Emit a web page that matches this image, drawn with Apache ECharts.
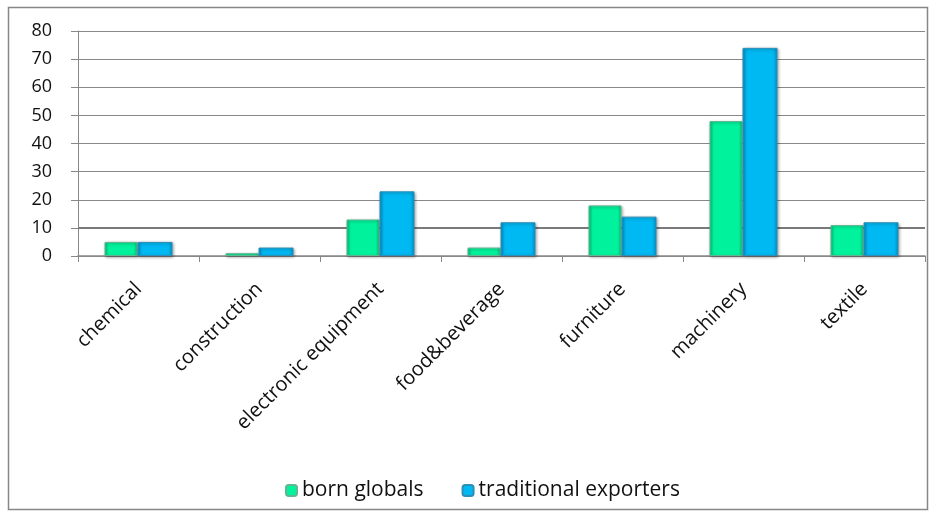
<!DOCTYPE html>
<html>
<head>
<meta charset="utf-8">
<script src="https://cdn.jsdelivr.net/npm/echarts@6/dist/echarts.min.js"></script>
<style>
  html, body { margin: 0; padding: 0; background: #fff; }
  #chart { width: 935px; height: 516px; }
</style>
</head>
<body>
<div id="chart"></div>
<script>
const categories = ["chemical", "construction", "electronic equipment", "food&beverage", "furniture", "machinery", "textile"];
const bornGlobals = [5, 1, 13, 3, 18, 48, 11];
const traditionalExporters = [5, 3, 23, 12, 14, 74, 12];
const yTicks = [0, 80, 10];

const font = "Open Sans, sans-serif";

function bevel(mid, edge) {
  return new echarts.graphic.LinearGradient(0, 0, 1, 0, [
    { offset: 0, color: edge },
    { offset: 0.12, color: mid },
    { offset: 0.88, color: mid },
    { offset: 1, color: edge }
  ]);
}

const chart = echarts.init(document.getElementById("chart"));
chart.setOption({
  animation: false,
  graphic: [{
    type: "rect",
    shape: { x: 8.5, y: 7.5, width: 919, height: 502 },
    style: { fill: "none", stroke: "#878787", lineWidth: 1.5 },
    silent: true
  }],
  grid: { left: 78, right: 10, top: 31, bottom: 260 },
  legend: {
    top: 475,
    left: 280,
    itemWidth: 11,
    itemHeight: 11,
    itemGap: 38,
    textStyle: { fontFamily: font, fontSize: 21, color: "#111" },
    data: ["born globals", "traditional exporters"]
  },
  xAxis: {
    type: "category",
    data: categories,
    axisLine: { lineStyle: { color: "#888", width: 1.5 } },
    axisTick: { show: true, length: 6, lineStyle: { color: "#888" } },
    axisLabel: {
      interval: 0,
      rotate: 45,
      fontFamily: font,
      fontSize: 20,
      color: "#111",
      margin: 30
    }
  },
  yAxis: {
    type: "value",
    min: yTicks[0],
    max: yTicks[1],
    interval: yTicks[2],
    axisLine: { show: true, lineStyle: { color: "#888" } },
    axisTick: { show: true, length: 7, lineStyle: { color: "#888" } },
    splitLine: { lineStyle: { color: "#888", width: 1.2 } },
    axisLabel: {
      fontFamily: font,
      fontSize: 18,
      color: "#111",
      margin: 26
    }
  },
  series: [
    {
      name: "born globals",
      type: "bar",
      data: bornGlobals,
      barWidth: 33,
      barGap: "0%",
      itemStyle: {
        color: bevel("#00f29c", "#00c47c"),
        borderColor: "#5fb890",
        borderWidth: 1,
        shadowColor: "rgba(0,0,0,0.35)",
        shadowBlur: 3,
        shadowOffsetX: 1,
        shadowOffsetY: 1
      },
      markLine: {
        silent: true,
        symbol: "none",
        label: { show: false },
        lineStyle: { color: "#7a7a7a", width: 2.2, type: "solid" },
        data: [{ yAxis: 10 }],
        z: 1
      }
    },
    {
      name: "traditional exporters",
      type: "bar",
      data: traditionalExporters,
      barWidth: 35,
      itemStyle: {
        color: bevel("#00b8f2", "#0090c4"),
        borderColor: "#2b8fb8",
        borderWidth: 1,
        shadowColor: "rgba(0,0,0,0.35)",
        shadowBlur: 3,
        shadowOffsetX: 1,
        shadowOffsetY: 1
      }
    }
  ]
});
</script>
</body>
</html>
